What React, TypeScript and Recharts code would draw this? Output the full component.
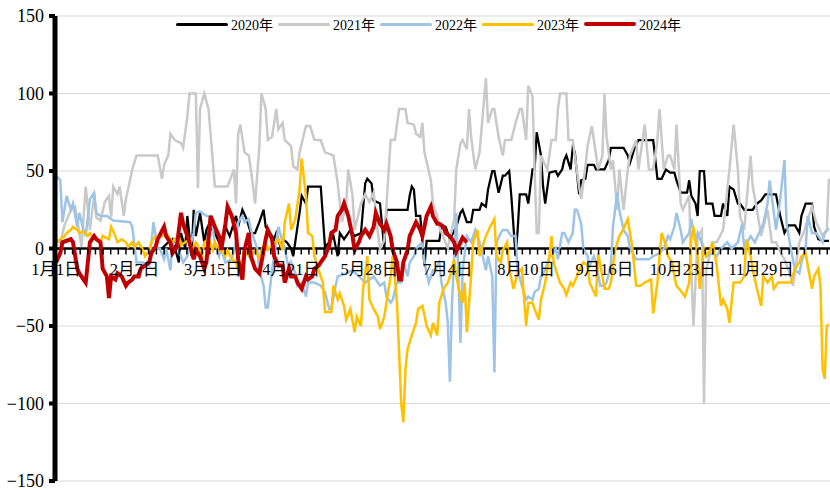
import { LineChart, Line, XAxis, YAxis, CartesianGrid, ReferenceLine, Legend } from "recharts";

// [day of year (0 = 1月1日), value]
const s2020: [number, number][] = [
  [50, 0], [53, 4], [55, 6], [58, -9], [59, 10], [61, 0], [62, 21], [64, -5], [65, 25], [66, 8], [68, 23], [70, 4], [71, 12],
  [72, 15], [75, 10], [77, 4], [78, 4], [80, 14], [82, 8], [85, 21], [86, 14], [88, 25], [90, 19], [92, 10], [94, 10], [96, 17],
  [98, 25], [99, 14], [101, 10], [103, 6], [104, 10], [106, 1], [107, 6], [109, 4], [111, 0], [112, -5], [114, 14], [115, 23],
  [116, 34], [118, 29], [119, 40], [125, 40], [127, 1], [129, 4], [131, 8], [133, -5], [134, 10], [136, 6], [139, 12], [141, 8],
  [144, 10], [146, 42], [147, 45], [149, 42], [150, 31], [153, 29], [155, 0], [156, 25], [166, 25], [167, 34], [168, 40],
  [169, 38], [170, 21], [172, 21], [173, 4], [174, -11], [175, 5], [181, 5], [182, 14], [184, 14], [186, 6], [189, 14],
  [191, 23], [192, 25], [194, 17], [196, 17], [197, 25], [200, 25], [201, 29], [203, 27], [204, 38], [206, 50], [207, 50],
  [209, 36], [211, 47], [212, 47], [214, 50], [215, 34], [217, -5], [218, 12], [219, 35], [222, 35], [223, 29], [225, 51],
  [226, 51], [227, 75], [229, 60], [230, 40], [231, 29], [233, 49], [236, 50], [237, 47], [239, 51], [240, 57], [241, 60],
  [243, 51], [244, 65], [245, 62], [247, 35], [248, 44], [250, 45], [251, 54], [254, 54], [255, 51], [259, 51], [261, 57],
  [262, 65], [268, 65], [270, 60], [271, 55], [273, 64], [275, 70], [282, 70], [284, 45], [286, 45], [288, 51], [290, 49],
  [292, 49], [293, 44], [295, 36], [298, 36], [299, 44], [300, 34], [302, 29], [303, 21], [304, 50], [306, 50], [307, 29],
  [310, 29], [311, 21], [314, 21], [315, 29], [317, 21], [318, 40], [320, 38], [322, 29], [323, 29], [325, 25], [329, 25],
  [331, 29], [333, 31], [335, 35], [340, 35], [342, 21], [344, 10], [346, 15], [349, 15], [351, 10], [352, 21], [354, 29],
  [357, 29], [358, 14], [360, 6], [362, 5], [365, 5],
];

const s2021: [number, number][] = [
  [0, 5], [2, 4], [4, 15], [7, 25], [9, 27], [12, 1], [14, 40], [16, 12], [18, 35], [19, 20], [21, 18], [23, 30], [25, 34],
  [26, 20], [27, 40], [29, 35], [30, 40], [32, 21], [33, 32], [36, 51], [38, 60], [48, 60], [50, 45], [51, 54], [53, 60],
  [54, 74], [56, 70], [59, 68], [60, 65], [62, 85], [63, 100], [66, 100], [67, 39], [68, 90], [70, 100], [72, 90],
  [75, 40], [81, 40], [84, 51], [85, 29], [86, 74], [87, 80], [89, 62], [91, 60], [92, 51], [94, 29], [96, 66], [97, 100],
  [99, 90], [100, 70], [102, 72], [104, 90], [105, 77], [107, 81], [108, 70], [111, 66], [112, 53], [114, 51], [115, 62],
  [118, 79], [120, 79], [122, 70], [125, 70], [127, 62], [131, 60], [133, 42], [135, 17], [137, 29], [138, 51], [140, 34],
  [141, 12], [144, 29], [146, 35], [148, 30], [150, 36], [152, 10], [153, 0], [155, 5], [158, 70], [160, 70], [162, 90],
  [165, 90], [166, 81], [169, 80], [170, 74], [172, 72], [173, 81], [174, 62], [177, 44], [178, 29], [180, 21], [181, 14],
  [185, 0], [188, 19], [189, 51], [191, 68], [192, 70], [194, 64], [195, 90], [196, 72], [198, 51], [200, 62], [202, 94],
  [203, 110], [204, 81], [206, 90], [207, 90], [209, 72], [211, 60], [212, 70], [215, 70], [217, 81], [219, 90], [220, 90],
  [222, 70], [223, 105], [225, 98], [226, 51], [227, 10], [228, 10], [229, 60], [232, 51], [234, 70], [236, 70], [237, 90],
  [238, 100], [241, 100], [242, 70], [244, 70], [247, 40], [248, 32], [250, 53], [251, 66], [253, 79], [254, 70], [256, 51],
  [258, 60], [259, 100], [260, 72], [262, 51], [263, 57], [265, 25], [266, 51], [268, 25], [270, 51], [271, 60], [274, 70],
  [275, 51], [277, 70], [278, 80], [280, 51], [282, 51], [284, 70], [285, 90], [287, 51], [289, 60], [290, 60], [292, 51],
  [293, 80], [295, 29], [296, 25], [299, 34], [300, -14], [301, -50], [303, 8], [305, 12], [306, -100], [307, -14], [310, 4],
  [312, 4], [315, 12], [318, 51], [320, 80], [322, 51], [323, 21], [325, 12], [326, 29], [328, 60], [329, 40], [331, 25],
  [333, 8], [336, 25], [338, 4], [340, 4], [343, -5], [344, -7], [347, -18], [348, -24], [351, 4], [353, 10], [355, 19],
  [357, 27], [359, 17], [362, 8], [364, 12], [365, 45],
];

const s2022: [number, number][] = [
  [0, 47], [2, 44], [3, 17], [5, 34], [7, 25], [8, 29], [10, 14], [11, 23], [13, 12], [14, 8], [16, 32], [18, 36], [19, 23],
  [21, 21], [24, 21], [27, 18], [35, 17], [36, 14], [38, -9], [41, -9], [44, -11], [46, 17], [48, 0], [49, 0], [51, -7],
  [52, 0], [54, -14], [55, 4], [57, 2], [59, -5], [60, -9], [62, -5], [63, 0], [65, 10], [66, 23], [68, 24], [71, 21],
  [73, 21], [75, 4], [77, -5], [78, 0], [80, -9], [83, -7], [85, 4], [86, 17], [88, 21], [89, 17], [91, 19], [92, 12],
  [95, 0], [96, -14], [98, -24], [99, -38], [100, -38], [102, -14], [103, -5], [105, 14], [107, 4], [108, 0], [110, -14],
  [111, -9], [113, -16], [114, -24], [116, -22], [118, -31], [119, -22], [122, -22], [125, -24], [127, -28], [129, -39],
  [130, -39], [132, -24], [133, -18], [137, -16], [140, -14], [143, -18], [146, -22], [150, -18], [153, -24], [155, -22],
  [156, -31], [158, -35], [159, -33], [161, -22], [163, -22], [164, -9], [166, -18], [167, -9], [169, -5], [170, 0],
  [173, 4], [174, -9], [176, -22], [178, -14], [179, -14], [181, -9], [182, -22], [184, -35], [185, -48], [186, -86],
  [187, -35], [189, 23], [190, -18], [191, -61], [192, -14], [194, 8], [196, 4], [198, 12], [200, 4], [203, -14], [204, -5],
  [206, -18], [207, -80], [208, 4], [210, 10], [211, 12], [213, 12], [215, 8], [217, 8], [218, -14], [220, -24], [222, -33],
  [223, -31], [225, -33], [226, -28], [228, -26], [229, -18], [231, -14], [233, -5], [234, -5], [236, 0], [237, -7],
  [239, 10], [240, 10], [242, 4], [244, 10], [245, 25], [246, 25], [248, 16], [249, 0], [251, -5], [252, -11], [254, -5],
  [255, -9], [257, -24], [259, -24], [260, -22], [262, -11], [263, 14], [265, 36], [266, 25], [268, 12], [270, 8], [271, 0],
  [274, -7], [280, -7], [282, -5], [285, -3], [287, 0], [289, 8], [290, 6], [292, 14], [293, 23], [295, 12], [296, 4],
  [299, 10], [300, 19], [302, 4], [303, 10], [306, 0], [307, -5], [310, -3], [312, -5], [314, 0], [317, 4], [319, 0],
  [322, 4], [324, 16], [325, 0], [328, 8], [330, 4], [332, 10], [334, 16], [336, 29], [337, 44], [339, 23], [340, 12],
  [342, 32], [344, 57], [345, 16], [347, 0], [349, -14], [351, -16], [352, -9], [354, 0], [355, 21], [357, 10], [359, 10],
  [362, 4], [363, 10], [365, 13],
];

const s2023: [number, number][] = [
  [0, 4], [2, 6], [4, 8], [5, 10], [7, 12], [8, 14], [10, 12], [11, 10], [13, 11], [15, 8], [16, 10], [18, 6], [19, 6],
  [21, 4], [22, 8], [25, 6], [26, 14], [28, 8], [29, 4], [31, 6], [33, 4], [34, 1], [36, 4], [37, 1], [39, 4], [41, -1],
  [42, -5], [44, -1], [45, 4], [47, 8], [48, 6], [50, 8], [52, 10], [53, 8], [55, 4], [56, 6], [58, 8], [59, 2], [61, 4],
  [63, 6], [64, -1], [66, 4], [67, 2], [69, -5], [70, 4], [72, 6], [74, -1], [75, 4], [77, -1], [78, -1], [80, -5],
  [81, -1], [83, -7], [85, -9], [86, -14], [88, -7], [89, -1], [91, -5], [92, -5], [94, -1], [96, -7], [97, -1], [99, 4],
  [100, -1], [102, 2], [104, 4], [105, 6], [107, -1], [108, 17], [110, 29], [111, 12], [113, 19], [115, 38], [116, 58],
  [118, 34], [119, 10], [121, 8], [122, -5], [124, -14], [126, -22], [127, -41], [130, -41], [131, -24], [133, -33],
  [134, -29], [136, -37], [137, -46], [139, -39], [141, -54], [142, -44], [144, -50], [145, -26], [147, -5], [148, -33],
  [150, -39], [152, -44], [153, -52], [155, -44], [156, -35], [158, -18], [159, -5], [161, -35], [162, -67], [163, -100],
  [164, -112], [165, -78], [166, -65], [168, -56], [170, -48], [171, -39], [173, -37], [174, -43], [175, -50], [177, -56],
  [178, -48], [180, -56], [181, -35], [183, -26], [185, -22], [186, -18], [188, -7], [189, -18], [191, -31], [192, -35],
  [193, -22], [194, -54], [196, -18], [197, 4], [199, 12], [200, -5], [202, 4], [203, 8], [205, 14], [207, 19], [208, -5],
  [210, -9], [211, -1], [213, 4], [214, -13], [216, -26], [218, -16], [220, -13], [222, -50], [223, -35], [225, -35],
  [226, -39], [228, -46], [229, -33], [231, -22], [233, -5], [234, 8], [235, -9], [237, -18], [238, -22], [240, -26],
  [241, -30], [243, -22], [244, -24], [246, -18], [248, -11], [249, -9], [251, -11], [252, -22], [254, -28], [255, -31],
  [256, -3], [258, -18], [259, -26], [261, -26], [262, -22], [264, -1], [266, 8], [267, 10], [269, 16], [270, 19], [272, 2],
  [274, -24], [276, -24], [278, -22], [281, -20], [282, -42], [284, -22], [285, -5], [286, 10], [288, 2], [289, -5],
  [291, -9], [292, -18], [293, -24], [296, -29], [297, -31], [299, -22], [300, 6], [301, 14], [303, -5], [304, -26],
  [306, 1], [307, -5], [309, -1], [310, 4], [312, -11], [314, -37], [315, -33], [317, -39], [318, -48], [320, -22],
  [321, -22], [323, -22], [325, -18], [326, 6], [328, -5], [329, -14], [331, -26], [333, -37], [334, -18], [336, -22],
  [338, -18], [339, -26], [341, -22], [343, -22], [345, -22], [347, -22], [349, -13], [351, -9], [352, -5], [354, -3],
  [355, -11], [357, -26], [358, -18], [360, -13], [361, -24], [362, -78], [363, -84], [364, -50], [365, -49],
];

const s2024: [number, number][] = [
  [0, -9], [2, -3], [3, 4], [5, 5], [7, 6], [8, 4], [10, -13], [11, -16], [13, -20], [14, -22], [16, 4], [18, 8], [19, 6],
  [21, 4], [22, -13], [24, -18], [25, -32], [26, -18], [28, -20], [29, -16], [31, -18], [33, -24], [34, -22], [36, -20],
  [37, -18], [39, -18], [40, -13], [42, -11], [44, -9], [45, -3], [47, 1], [48, 6], [51, 14], [52, 8], [54, 4], [55, -3],
  [57, 1], [59, 23], [60, 16], [62, 8], [63, 4], [65, -7], [66, -1], [68, -5], [70, -13], [71, -9], [73, 21], [75, 14],
  [77, 8], [78, -1], [80, 16], [81, 27], [83, 21], [85, 10], [86, -7], [88, -20], [89, -1], [91, 10], [92, -5], [94, -13],
  [96, -16], [97, -9], [99, 6], [100, 12], [102, 6], [103, -5], [105, -11], [107, -11], [108, -22], [110, -13], [111, -18],
  [113, -18], [114, -22], [116, -26], [118, -18], [119, -20], [121, -18], [122, -13], [124, -11], [125, -9], [127, -5],
  [129, 2], [130, 10], [132, 12], [133, 21], [135, 25], [136, 29], [138, 21], [140, 8], [141, -1], [143, 4], [144, 8],
  [146, 12], [148, 8], [150, 14], [151, 23], [153, 16], [155, 12], [156, 16], [158, 8], [159, -1], [161, -9], [162, -20],
  [163, -20], [164, -9], [166, -1], [167, 8], [169, 14], [170, 17], [172, 12], [173, 8], [175, 21], [177, 27], [178, 21],
  [180, 16], [181, 16], [183, 14], [184, 10], [186, 8], [188, 4], [189, -2], [191, 4], [192, 7], [194, 4],
];

const labelDays = [0, 37, 74, 111, 148, 185, 222, 259, 296, 333];
const labelTexts = ["1月1日", "2月7日", "3月15日", "4月21日", "5月28日", "7月4日", "8月10日", "9月16日", "10月23日", "11月29日"];
const yTicks = [-150, -100, -50, 0, 50, 100, 150];

const W = 830;
const H = 490;
const TOP = 16;
const AXIS_H = 9;
const PLOT_H = H - TOP - AXIS_H;
const FONT = "'Liberation Serif', 'Times New Roman', 'Noto Sans CJK SC', serif";

const series = [
  { name: "2020年", data: s2020, color: "#000000", width: 2.25 },
  { name: "2021年", data: s2021, color: "#C9C9C9", width: 2.5 },
  { name: "2022年", data: s2022, color: "#9DC3E6", width: 2.5 },
  { name: "2023年", data: s2023, color: "#FFC000", width: 2.5 },
  { name: "2024年", data: s2024, color: "#C00000", width: 4 },
];

// minor tick marks along the day axis, ~10 per label interval
const minorTicks: number[] = [];
for (let d = 4.2; d < 365.5; d += 3.6) minorTicks.push(Math.round(d * 10) / 10);
const xTicks = [...labelDays, ...minorTicks].sort((a, b) => a - b);

function DayTick(props: any) {
  const { x, y, payload } = props;
  // the category axis crosses at y = 0, the middle of the plot
  const zy = y - PLOT_H / 2;
  const i = labelDays.indexOf(payload.value);
  if (i >= 0) {
    return (
      <text x={x} y={zy + 26} textAnchor="middle" fontSize={16.5} fontFamily={FONT} fill="#000">
        {labelTexts[i]}
      </text>
    );
  }
  return <line x1={x} x2={x} y1={zy} y2={zy + 6} stroke="#000" strokeWidth={1.5} />;
}

function LegendRow() {
  return (
    <div style={{ display: "flex", alignItems: "center", fontFamily: FONT, fontSize: 14, color: "#000" }}>
      {series.map((s) => (
        <div key={s.name} style={{ display: "flex", alignItems: "center", marginRight: 5 }}>
          <span style={{ display: "inline-block", width: 52, height: s.width > 3 ? 4.5 : 3, background: s.color, borderRadius: 2 }} />
          <span style={{ marginLeft: 3 }}>{s.name}</span>
        </div>
      ))}
    </div>
  );
}

export default function App() {
  return (
    <div style={{ position: "absolute", left: 0, top: 0, width: W, height: H, background: "#fff" }}>
      <LineChart width={W} height={H} margin={{ top: TOP, right: 0, bottom: 0, left: 0 }}>
        <CartesianGrid vertical={false} stroke="#D9D9D9" strokeWidth={1} />
        <XAxis
          type="number"
          dataKey="day"
          domain={[-0.5, 365.5]}
          ticks={xTicks}
          interval={0}
          tick={DayTick}
          tickSize={0}
          tickMargin={0}
          axisLine={false}
          tickLine={false}
          height={AXIS_H}
        />
        <YAxis
          type="number"
          domain={[-150, 150]}
          ticks={yTicks}
          interval={0}
          width={55}
          axisLine={{ stroke: "#000", strokeWidth: 5 }}
          tickLine={{ stroke: "#000", strokeWidth: 4 }}
          tickSize={6}
          tickMargin={5}
          tick={{ fontSize: 18, fontFamily: FONT, fill: "#000" }}
          tickFormatter={(v: number) => String(v).replace("-", "−")}
        />
        <ReferenceLine y={0} stroke="#000" strokeWidth={2.5} />
        {series.map((s) => (
          <Line
            key={s.name}
            name={s.name}
            data={s.data.map(([day, v]) => ({ day, v }))}
            dataKey="v"
            type="linear"
            stroke={s.color}
            strokeWidth={s.width}
            dot={false}
            activeDot={false}
            isAnimationActive={false}
          />
        ))}
        <Legend
          verticalAlign="middle"
          align="center"
          content={() => <LegendRow />}
          wrapperStyle={{ top: 14, left: 176, width: 560 }}
        />
      </LineChart>
    </div>
  );
}
